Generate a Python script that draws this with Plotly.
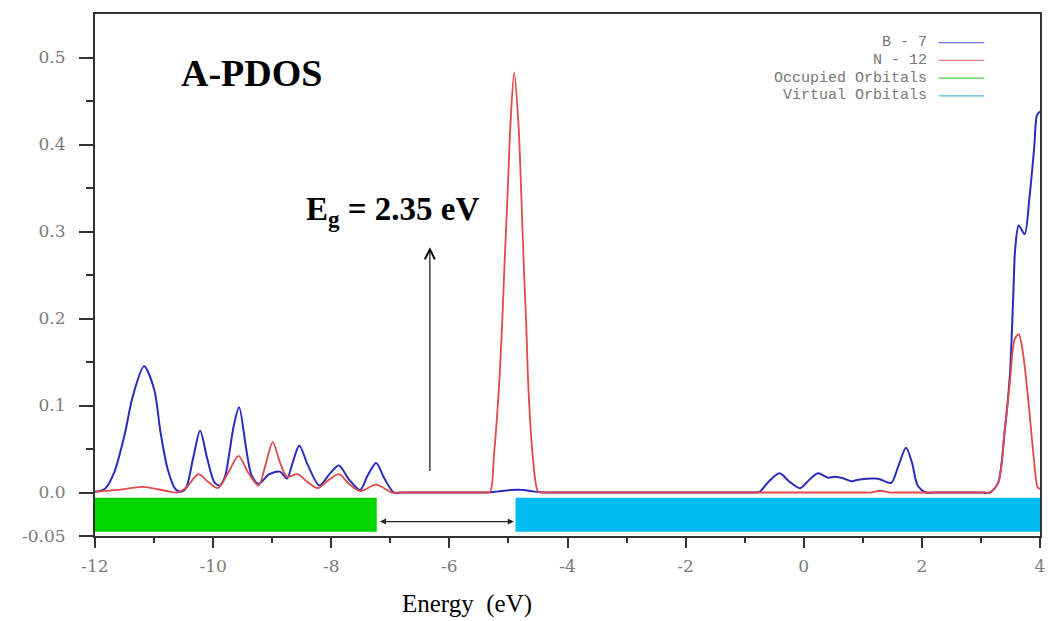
import plotly.graph_objects as go

# Partial density of states, boron atom 7
energy_b7 = [-12.00, -11.90, -11.82, -11.67, -11.49, -11.37, -11.17, -11.00, -10.89, -10.77,
             -10.64, -10.55, -10.46, -10.34, -10.22, -10.10, -9.98, -9.89, -9.80, -9.74,
             -9.65, -9.56, -9.44, -9.35, -9.23, -9.05, -8.87, -8.75, -8.65, -8.54,
             -8.40, -8.20, -8.02, -7.87, -7.70, -7.51, -7.38, -7.24, -7.10, -6.94,
             -6.80, -6.50, -5.50, -5.35, -5.20, -4.95, -4.75, -4.55, -4.40, -4.25,
             -2.00, -0.90, -0.80, -0.74, -0.60, -0.41, -0.25, -0.06, 0.10, 0.24,
             0.41, 0.53, 0.68, 0.80, 0.95, 1.21, 1.30, 1.48, 1.60, 1.73,
             1.83, 1.93, 2.07, 2.20, 2.50, 3.00, 3.15, 3.29, 3.40, 3.49,
             3.545, 3.58, 3.64, 3.74, 3.82, 3.90, 3.95, 4.00]
dos_b7 = [0.001, 0.002, 0.005, 0.024, 0.069, 0.108, 0.145, 0.119, 0.069, 0.027,
          0.004, 0.001, 0.005, 0.039, 0.071, 0.039, 0.012, 0.008, 0.018, 0.039,
          0.077, 0.098, 0.050, 0.020, 0.010, 0.021, 0.024, 0.016, 0.035, 0.054,
          0.032, 0.008, 0.022, 0.031, 0.015, 0.003, 0.020, 0.034, 0.016, 0.000,
          0.000, 0.000, 0.000, 0.000, 0.001, 0.003, 0.003, 0.001, 0.000, 0.000,
          0.000, 0.000, 0.000, 0.001, 0.012, 0.022, 0.013, 0.005, 0.015, 0.022,
          0.017, 0.018, 0.016, 0.013, 0.015, 0.016, 0.015, 0.011, 0.030, 0.0515,
          0.035, 0.008, 0.000, 0.000, 0.000, 0.000, 0.000, 0.011, 0.069, 0.135,
          0.222, 0.280, 0.307, 0.297, 0.338, 0.395, 0.434, 0.438]

# Partial density of states, nitrogen atom 12
energy_n12 = [-12.00, -11.60, -11.19, -10.77, -10.60, -10.45, -10.25, -10.08, -9.92, -9.75,
              -9.57, -9.40, -9.23, -9.12, -8.99, -8.87, -8.75, -8.57, -8.40, -8.23,
              -8.05, -7.87, -7.70, -7.51, -7.24, -6.97, -6.85, -6.00, -5.45, -5.40,
              -5.31, -5.244, -5.162, -5.106, -5.061, -5.012, -4.967, -4.902, -4.829, -4.785,
              -4.746, -4.700, -4.661, -4.591, -4.497, -4.40, -4.30, -1.00, 1.05, 1.15,
              1.30, 1.45, 1.55, 3.05, 3.15, 3.29, 3.40, 3.49, 3.57, 3.64,
              3.71, 3.80, 3.88, 3.96, 4.00]
dos_n12 = [0.001, 0.003, 0.0065, 0.0015, 0.000, 0.006, 0.021, 0.012, 0.005, 0.022,
           0.042, 0.022, 0.008, 0.030, 0.058, 0.035, 0.018, 0.021, 0.012, 0.005,
           0.014, 0.021, 0.010, 0.0015, 0.009, 0.000, 0.000, 0.000, 0.000, 0.000,
           0.001, 0.044, 0.119, 0.195, 0.271, 0.347, 0.422, 0.483, 0.422, 0.347,
           0.271, 0.195, 0.119, 0.044, 0.001, 0.000, 0.000, 0.000, 0.000, 0.000,
           0.002, 0.000, 0.000, 0.000, 0.000, 0.011, 0.069, 0.127, 0.176, 0.182,
           0.161, 0.107, 0.050, 0.006, 0.004]

# Frontier orbital edges (eV)
homo_edge = -7.23
lumo_edge = -4.88
band_gap = lumo_edge - homo_edge

x_range = [-12, 4]
y_range = [-0.05, 0.55]
x_tick_vals = [-12, -10, -8, -6, -4, -2, 0, 2, 4]
x_tick_text = ["-12", "-10", "-8", "-6", "-4", "-2", "0", "2", "4"]
y_tick_vals = [-0.05, 0.0, 0.1, 0.2, 0.3, 0.4, 0.5]
y_tick_text = ["-0.05", "0.0", "0.1", "0.2", "0.3", "0.4", "0.5"]
legend_labels = ["B - 7", "N - 12", "Occupied Orbitals", "Virtual Orbitals"]

BLUE = "#2b2bbf"
RED = "#e04a4a"
GREEN = "#00d600"
SKY = "#00bbf2"
legend_colors = ["#7070e0", "#e08080", "#50d050", "#50b8e0"]

fig = go.Figure()
fig.add_trace(go.Scatter(x=energy_b7, y=dos_b7, mode="lines", name=legend_labels[0],
                         line=dict(color=BLUE, width=2.0, shape="spline", smoothing=0.8),
                         showlegend=False))
fig.add_trace(go.Scatter(x=energy_n12, y=dos_n12, mode="lines", name=legend_labels[1],
                         line=dict(color=RED, width=1.8, shape="spline", smoothing=0.8),
                         showlegend=False))

bar_top = -0.006
bar_bottom = -0.045
shapes = [
    dict(type="rect", xref="x", yref="y", x0=x_range[0], x1=homo_edge,
         y0=bar_bottom, y1=bar_top, fillcolor=GREEN, line=dict(width=0)),
    dict(type="rect", xref="x", yref="y", x0=lumo_edge, x1=x_range[1],
         y0=bar_bottom, y1=bar_top, fillcolor=SKY, line=dict(width=0)),
]

# Legend drawn as right-aligned text followed by a short line sample
legend_y = [0.945, 0.911, 0.877, 0.843]
annotations = []
for label, color, ly in zip(legend_labels, legend_colors, legend_y):
    annotations.append(dict(x=0.881, y=ly, xref="paper", yref="paper", text=label,
                            showarrow=False, xanchor="right", yanchor="middle",
                            borderpad=0,
                            font=dict(family="Liberation Mono", size=15, color="#777777")))
    shapes.append(dict(type="line", xref="paper", yref="paper", x0=0.8926, x1=0.941,
                       y0=ly, y1=ly, line=dict(color=color, width=1.2)))

annotations += [
    dict(x=0.166, y=0.887, xref="paper", yref="paper", text="<b>A-PDOS</b>",
         showarrow=False, xanchor="center", yanchor="middle",
         font=dict(family="Liberation Serif", size=38, color="black")),
    dict(x=0.221, y=0.622, xref="paper", yref="paper",
         text=f"<b>E<sub>g</sub> = {band_gap:.2f} eV</b>",
         showarrow=False, xanchor="left", yanchor="middle",
         font=dict(family="Liberation Serif", size=33, color="black")),
    # vertical pointer
    dict(x=-6.33, y=0.282, ax=-6.33, ay=0.023, xref="x", yref="y", axref="x", ayref="y",
         text="", showarrow=True, arrowhead=5, arrowsize=1.8, arrowwidth=1.1,
         arrowcolor="black"),
    # gap between occupied and virtual levels
    dict(x=lumo_edge - 0.03, y=-0.0334, ax=homo_edge + 0.03, ay=-0.0334,
         xref="x", yref="y", axref="x", ayref="y", text="", showarrow=True,
         arrowside="end+start", arrowhead=2, startarrowhead=2, arrowsize=1,
         startarrowsize=1, arrowwidth=1.2, arrowcolor="#222222"),
    dict(x=0.394, y=-0.130, xref="paper", yref="paper", text="Energy\u00a0\u00a0(eV)",
         showarrow=False, xanchor="center", yanchor="middle",
         font=dict(family="Liberation Serif", size=25, color="black")),
]

tick_font = dict(family="DejaVu Serif", size=17, color="#7a7a7a")
fig.update_layout(
    width=1052, height=621,
    margin=dict(l=95, r=7, t=14, b=85),
    paper_bgcolor="white", plot_bgcolor="white",
    shapes=shapes, annotations=annotations,
    xaxis=dict(range=x_range, tickvals=x_tick_vals, ticktext=x_tick_text,
               ticks="outside", ticklen=10, tickwidth=2, tickcolor="#333333",
               minor=dict(dtick=1, tick0=-12, ticks="outside", ticklen=5, tickwidth=2,
                          tickcolor="#333333"),
               showline=True, mirror=True, linecolor="#333333", linewidth=2,
               showgrid=False, zeroline=False, tickfont=tick_font,
               ticklabelstandoff=4),
    yaxis=dict(range=y_range, tickvals=y_tick_vals, ticktext=y_tick_text,
               ticks="outside", ticklen=14, tickwidth=2, tickcolor="#333333",
               minor=dict(tickvals=[0.05, 0.15, 0.25, 0.35, 0.45], ticks="outside",
                          ticklen=7, tickwidth=2, tickcolor="#333333"),
               showline=True, mirror=True, linecolor="#333333", linewidth=2,
               showgrid=False, zeroline=False, tickfont=tick_font,
               ticklabelstandoff=10),
)

fig.write_html("out.html")
